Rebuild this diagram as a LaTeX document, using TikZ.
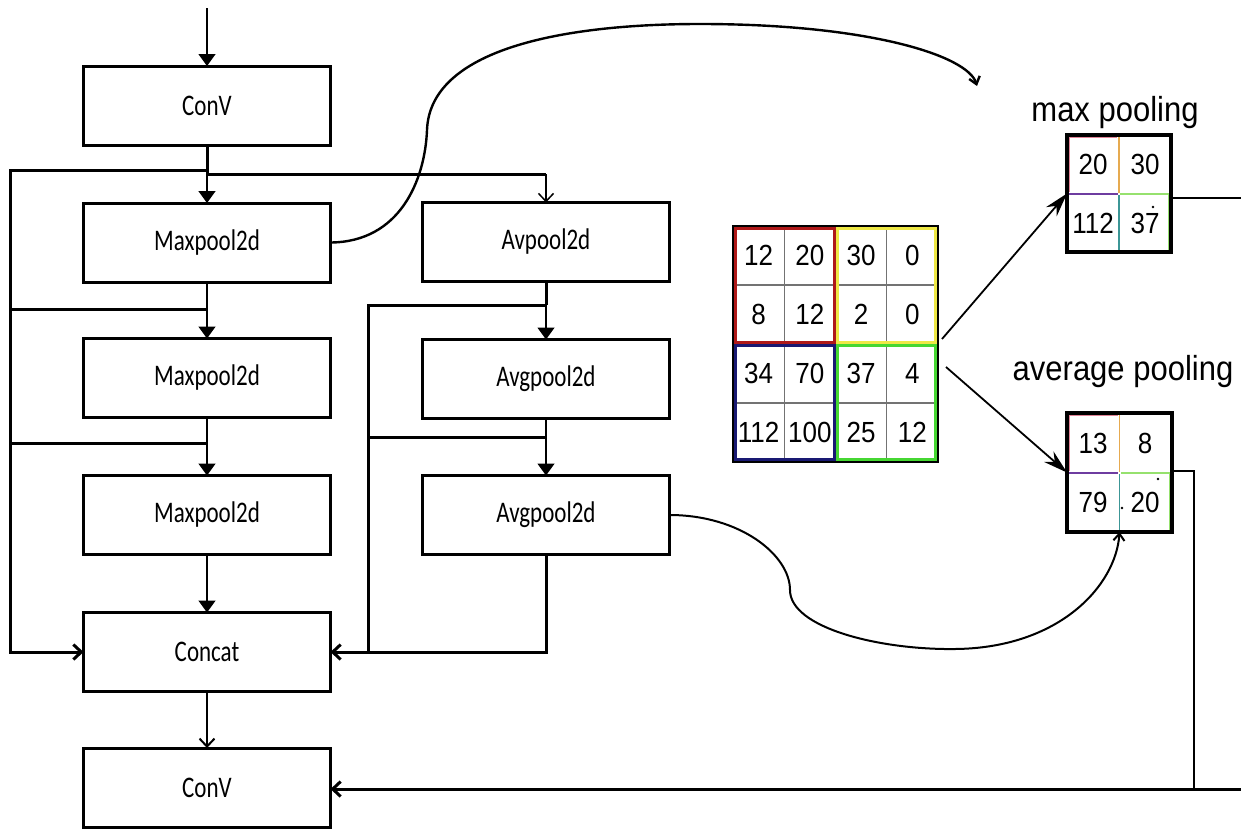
\documentclass[tikz,border=0pt]{standalone}
\usepackage{fontspec}
\usepackage{graphicx}
\setmainfont{Carlito}
\newfontfamily\arialf{Liberation Sans}
\usetikzlibrary{arrows.meta}
\newcommand{\talltext}[1]{\scalebox{1}[1.3]{#1}}
\newcommand{\tallnum}[1]{\scalebox{1}[1.12]{#1}}
\definecolor{qred}{RGB}{175,25,25}
\definecolor{qyellow}{RGB}{238,232,70}
\definecolor{qblue}{RGB}{25,25,115}
\definecolor{qgreen}{RGB}{70,215,50}
\definecolor{cpink}{RGB}{225,130,150}
\definecolor{corange}{RGB}{230,170,80}
\definecolor{cpurple}{RGB}{110,60,160}
\definecolor{cteal}{RGB}{60,150,150}
\definecolor{clgreen}{RGB}{150,225,110}
\tikzset{
  box/.style={draw, line width=3pt, minimum width=247pt, minimum height=79pt,
    inner sep=0pt, outer sep=0pt, font=\fontsize{23}{27}\selectfont},
  thinline/.style={line width=1.5pt},
  thickline/.style={line width=3pt},
  farrow/.style={thinline, -{Triangle[width=17pt,length=12pt]}},
  oarrow/.style={-{Straight Barb[width=15pt,length=8pt]}},
  num/.style={font=\arialf\fontsize{26}{28}\selectfont, inner sep=0pt},
  lbl/.style={font=\arialf\fontsize{31}{36}\selectfont, inner sep=0pt},
  outbox/.style={draw, line width=3.5pt, minimum width=104pt, minimum height=117pt, inner sep=0pt, outer sep=0pt},
}
\begin{document}
\begin{tikzpicture}[x=1pt,y=-1pt]
\useasboundingbox[fill=white] (0,0) rectangle (1241,828);

% ---- left column
\node[box] (conv1) at (207,105.5) {\talltext{ConV}};
\node[box] (mp1) at (207,242.5) {\talltext{Maxpool2d}};
\node[box] (mp2) at (207,378) {\talltext{Maxpool2d}};
\node[box] (mp3) at (207,515) {\talltext{Maxpool2d}};
\node[box] (concat) at (207,652) {\talltext{Concat}};
\node[box] (conv2) at (207,787.5) {\talltext{ConV}};
% ---- middle column
\node[box] (ap1) at (546,242) {\talltext{Avpool2d}};
\node[box] (ap2) at (546,379) {\talltext{Avgpool2d}};
\node[box] (ap3) at (546,515) {\talltext{Avgpool2d}};

% ---- coordinates for joints
\coordinate (in) at (207,8);
\coordinate (jL0) at (207,170);
\coordinate (L0) at (10,170);
\coordinate (jR0) at (207,174);
\coordinate (R0) at (546,174);
\coordinate (jL1) at (207,309);
\coordinate (L1) at (10,309);
\coordinate (jL2) at (207,443);
\coordinate (L2) at (10,443);
\coordinate (jM1) at (546,305);
\coordinate (M1) at (368,305);
\coordinate (jM2) at (546,437);
\coordinate (M2) at (368,437);
\coordinate (jM3) at (546,652);

% ---- connectors, left column
\draw[farrow] (in) -- (conv1.north);
\draw[thickline] (conv1.south) -- (jR0);
\draw[farrow] (jR0) -- (mp1.north);
\draw[thickline, oarrow] (jL0) -- (L0) |- (concat.west);
\draw[thickline] (jR0) -- (R0);
\draw[thinline, oarrow] (R0) -- (ap1.north);
\draw[farrow] (mp1.south) -- (mp2.north);
\draw[thickline] (jL1) -- (L1);
\draw[farrow] (mp2.south) -- (mp3.north);
\draw[thickline] (jL2) -- (L2);
\draw[farrow] (mp3.south) -- (concat.north);
\draw[line width=2pt, oarrow] (concat.south) -- (conv2.north);

% ---- connectors, middle column
\draw[thickline] (ap1.south) -- (jM1);
\draw[farrow] (jM1) -- (ap2.north);
\draw[thickline, oarrow] (jM1) -- (M1) |- (concat.east);
\draw[farrow] (ap2.south) -- (ap3.north);
\draw[thickline] (jM2) -- (M2);
\draw[thickline] (ap3.south) -- (jM3) -- (M1 |- jM3);

% ---- input grid
\node[minimum width=205pt, minimum height=236pt, inner sep=0pt, outer sep=0pt] (grid) at (835.5,344) {};
\foreach \xx in {784.25,886.75} \draw[line width=1.2pt, black!55] (\xx,228) -- (\xx,460);
\foreach \yy in {285,403} \draw[line width=1.2pt, black!55] (735,\yy) -- (936,\yy);
\draw[line width=3pt, qred] (735.5,228.5) rectangle (834,342.5);
\draw[line width=3pt, qyellow] (837,228.5) rectangle (935.5,342.5);
\draw[line width=3pt, qblue] (735.5,345.5) rectangle (834,459.5);
\draw[line width=3pt, qgreen] (837,345.5) rectangle (935.5,459.5);
\draw[line width=1.6pt, black] (733,226) rectangle (938,462);
\foreach [count=\r] \row in {{12,20,30,0},{8,12,2,0},{34,70,37,4},{112,100,25,12}} {
  \foreach [count=\c] \v in \row {
    \node[num] (g\r\c) at ({733+51.25*(\c-0.5)},{226+59*(\r-0.5)}) {\tallnum{\v}};
  }
}

% ---- max pooling box
\node[lbl] (maxlbl) at (1115,113) {\tallnum{max pooling}};
\node[outbox] (maxbox) at (1119,193.5) {};
\draw[line width=1.2pt, cpink] (1069,137) -- (1117,137) (1069,137) -- (1069,192);
\draw[line width=1.2pt, corange] (1119,137) -- (1119,192.5);
\draw[line width=1.2pt, cpurple] (1069,194) -- (1118,194);
\draw[line width=1.2pt, clgreen] (1120,194) -- (1169,194) -- (1169,250);
\draw[line width=1.2pt, cteal] (1119,195) -- (1119,250);
\draw[line width=3.5pt] (1067,135) rectangle (1171,252);
\node[num] (m11) at (1093,164.5) {\tallnum{20}};
\node[num] (m12) at (1145,164.5) {\tallnum{30}};
\node[num] (m21) at (1093,223) {\tallnum{112}};
\node[num] (m22) at (1145,223) {\tallnum{37}};
\fill (1153,207) circle (1.3pt);

% ---- average pooling box
\node[lbl] (avglbl) at (1123,372) {\tallnum{average pooling}};
\node[outbox, minimum height=119pt, minimum width=105pt] (avgbox) at (1119.5,472.5) {};
\draw[line width=1.2pt, cpink] (1069,415) -- (1118,415) (1069,415) -- (1069,471);
\draw[line width=1.2pt, corange] (1119.5,415) -- (1119.5,471.5);
\draw[line width=1.2pt, cpurple] (1069,473) -- (1118,473);
\draw[line width=1.2pt, clgreen] (1121,473) -- (1170,473) -- (1170,530);
\draw[line width=1.2pt, cteal] (1119.5,474) -- (1119.5,530);
\draw[line width=3.5pt] (1067,413) rectangle (1172,532);
\node[num] (a11) at (1093,443) {\tallnum{13}};
\node[num] (a12) at (1145,443) {\tallnum{8}};
\node[num] (a21) at (1093,502.5) {\tallnum{79}};
\node[num] (a22) at (1145,502.5) {\tallnum{20}};
\fill (1158,479) circle (1.3pt);
\fill (1122,508) circle (1.3pt);

% ---- grid to pooling arrows
\coordinate (g1) at (942,339);
\coordinate (g2) at (946,367);
\draw[line width=1.8pt, -{Stealth[length=24pt,width=14pt]}] (g1) -- (maxbox.west);
\draw[line width=1.8pt, -{Stealth[length=24pt,width=14pt]}] (g2) -- (avgbox.west);

% ---- right-hand feedback lines
\coordinate (maxout) at (1241,198);
\coordinate (avgturn) at (1194,471);
\coordinate (avgdown) at (1194,789);
\coordinate (rightedge) at (1241,789);
\draw[line width=2pt] (maxbox.east |- maxout) -- (maxout);
\draw[line width=2pt] (avgbox.east |- avgturn) -- (avgturn) -- (avgdown);
\draw[thickline, oarrow] (rightedge) -- (conv2.east |- rightedge);

% ---- curved connectors
\coordinate (c1end) at (977,86);
\draw[line width=2.4pt, -{Straight Barb[width=11pt,length=7pt]}] (mp1.east) .. controls (400,242) and (425,180) .. (427,130)
  .. controls (430,50) and (560,24) .. (700,24)
  .. controls (870,24) and (968,56) .. (c1end);
\draw[line width=2pt, -{Straight Barb[width=11pt,length=7pt]}] (ap3.east) .. controls (740,515) and (790,555) .. (790,590)
  .. controls (790,628) and (880,650) .. (955,649)
  .. controls (1060,648) and (1116,585) .. (avgbox.south);
\end{tikzpicture}
\end{document}
